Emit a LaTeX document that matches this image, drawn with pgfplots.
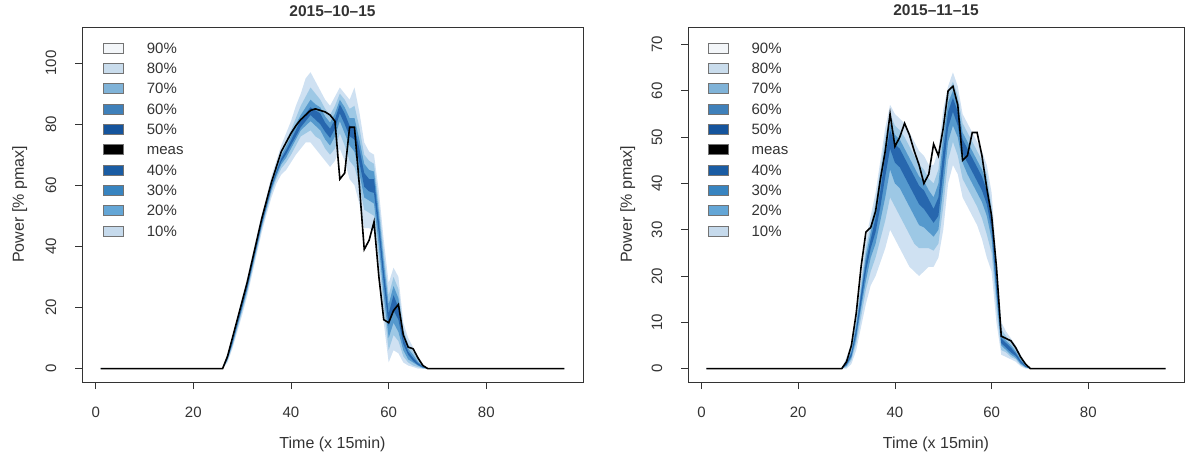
\documentclass[border=0pt]{standalone}
\usepackage{fontspec}
\setmainfont{Liberation Sans}
\usepackage{pgfplots}
\pgfplotsset{compat=1.18}
\usepackage{pgfplotstable}
\usepgfplotslibrary{fillbetween}

\definecolor{bA}{HTML}{CFE1F2}
\definecolor{bB}{HTML}{9DC8E5}
\definecolor{bC}{HTML}{5599CD}
\definecolor{bD}{HTML}{2767AE}
\definecolor{l90}{HTML}{F3F6F9}
\definecolor{l80}{HTML}{C9DCEC}
\definecolor{l70}{HTML}{80B3D8}
\definecolor{l60}{HTML}{3F80BA}
\definecolor{l50}{HTML}{15549C}
\definecolor{l40}{HTML}{1A5CA3}
\definecolor{l30}{HTML}{3884C0}
\definecolor{l20}{HTML}{64A6D6}
\definecolor{l10}{HTML}{C6DAEC}
\definecolor{txt}{HTML}{333333}

\pgfplotstableread{
t m q10 q20 q30 q40 q60 q70 q80 q90
1 0 0 0 0 0 0 0 0 0
26 0 0 0 0 0 0 0 0 0
27 4 2 2.5 3 3.3 3.7 4 4.5 5
28 10 6.5 7.2 7.8 8.3 8.7 9.2 9.8 10.5
29 16 12 13 13.7 14.3 14.8 15.3 16 17
30 22 17.5 18.7 19.5 20.2 20.8 21.5 22.3 23.5
31 28 23.5 24.7 25.5 26.2 26.8 27.5 28.3 29.5
32 35 30.5 31.7 32.5 33.2 33.8 34.5 35.3 36.5
33 42 37.5 38.7 39.5 40.2 40.8 41.5 42.3 43.5
34 49 44.5 45.7 46.5 47.2 47.8 48.5 49.3 50.5
35 55 50.5 51.7 52.5 53.2 53.8 54.5 55.3 56.5
36 61 56 57.5 58.5 59.2 59.8 60.5 61.5 63
37 66 60.5 62 63 63.7 64.5 65.3 66.5 68
38 71 63.5 65.5 66.8 67.7 68.7 69.7 71 73
39 74 65 67.5 69 70.2 71.5 72.8 74.5 77
40 77 67.5 70 72 73.2 74.7 76 78 81
41 79.5 70 73 75 76 78 80 82 86
42 81.5 72 76 78 79 81.5 83 86 90
43 83 74 77 79.5 81 83.5 85.5 89 95
44 84.5 74 78 81 83 85.5 88 92 97
45 85 72 76 79.5 81.5 84.5 86.5 90 94
46 84.5 70 75 78 80 83.5 85.5 88 91
47 84 68 72 75 77.5 80.5 82.5 85 88
48 83 66 70 73 75.5 78.5 80.5 83 86
49 81 68 72 76 78.5 81.5 83.5 86 89
50 62 72 77 81 83.5 86.5 88 90 92
51 64 68 73 77 80 83.5 85.5 88 90
52 79 62 68 73 76 79.5 82 85 88
53 79 60 66 71 75 79 82 86 92
54 60 54 60 64 67.5 72 75 79 84
55 39 46 52 56 59.5 64 67 70 74
56 42 46 51 55 58 62 65 68 71
57 48 45 50 54 57.5 62 64.5 67 70
58 30 30 36 40 44 48 51 54 58
59 16 15 20 24 28 32 35 38 42
60 15 2 6 10 14 18 21 24 28
61 19 6 11 15 19 24 27 30 33
62 21 5 9 12 16 20 23 26 30
63 11 2 4 6 8 10 11.5 13 15
64 7 1 2 3 4.5 5.5 6.5 8 10
65 6.5 0.5 1 2 2.5 3.5 4.5 5.5 7
66 3.5 0 0.5 1 1.2 1.8 2.2 3 4
67 1 0 0 0.2 0.4 0.6 0.8 1 1.5
68 0 0 0 0 0 0 0 0 0
96 0 0 0 0 0 0 0 0 0
}\tL

\pgfplotstableread{
t m q10 q20 q30 q40 q60 q70 q80 q90
1 0 0 0 0 0 0 0 0 0
29 0 0 0 0 0 0 0 0 0
30 1.5 0 0.3 0.6 0.8 1.2 1.5 2 2.5
31 5 1 1.8 2.3 2.7 3.3 3.8 4.5 5.5
32 12 4 5.5 6.5 7.5 8.5 9.5 10.5 12
33 22 9 11 13 14 16 17 18.5 20
34 29.5 14 17 19 21 23 24.5 26 28
35 30.5 18 21 24 26 28 29.5 31 33
36 34 20 24 27 29.5 32.5 34 36 38
37 41 23 28 32 35 38.5 40.5 43 45
38 47 26 32 37 41.5 46 48 50 52
39 55 30 37 43 47.5 51.5 53 55 57
40 48 28 35 40 44.5 48.5 50.5 52.5 55
41 50 26 33 39 43.5 47.5 49.5 51.5 54
42 53 24 31 37 41.5 45.5 47.5 50 53
43 50.5 22 29 35 39.5 43.5 45.5 48 51
44 47 21 27 33 37.5 41.5 43.5 46 49
45 44 20 26 31 35.5 39.5 41.5 44 47
46 40 21 26 30.5 34.5 38.5 40.5 43 46
47 42 22 26 29.5 33 36.5 38.5 41 44
48 48.5 22 25.5 28.5 31.5 34.5 37 40 44
49 46 24 27 30 33 37 40 43 47
50 52 30 35 39 42.5 47 50 53 56
51 60 40 45 49 52 55.5 57.5 59.5 61
52 61 44 49 52.5 55.5 58.5 60 62 64
53 57 42 46 50 52.5 55.5 57 59 61
54 45 37 41 44.5 46.5 49.5 51 53 55
55 46 35 39 42 44.5 47.5 49 51 53
56 51 33 37 40 42.5 45.5 47 49 51
57 51 31 35 38 40.5 43.5 45 47 49
58 46 28 32.5 36 38.5 41.5 43 45 47
59 39 24 29 33 35.5 38.5 40 42 44
60 33 21 25 28 30 32 33.5 35 38
61 22 10 13 15.5 17 19 20.5 22 24
62 7 3 4 5 5.5 6.5 7.5 8.5 10
63 6.5 2.5 3.5 4 4.5 5.5 6 7 8
64 6 2 2.5 3 3.5 4.5 5 5.5 6.5
65 4.5 1.5 2 2.3 2.7 3.3 3.7 4.2 5
66 2.5 0.5 0.8 1 1.3 1.7 2 2.4 3
67 1 0 0.2 0.3 0.4 0.6 0.7 0.9 1.2
68 0 0 0 0 0 0 0 0 0
96 0 0 0 0 0 0 0 0 0
}\tR

\newcommand{\legendimages}{%
\addlegendimage{fill=l90}\addlegendentry{90\%}
\addlegendimage{fill=l80}\addlegendentry{80\%}
\addlegendimage{fill=l70}\addlegendentry{70\%}
\addlegendimage{fill=l60}\addlegendentry{60\%}
\addlegendimage{fill=l50}\addlegendentry{50\%}
\addlegendimage{fill=black}\addlegendentry{meas}
\addlegendimage{fill=l40}\addlegendentry{40\%}
\addlegendimage{fill=l30}\addlegendentry{30\%}
\addlegendimage{fill=l20}\addlegendentry{20\%}
\addlegendimage{fill=l10}\addlegendentry{10\%}
}

\pgfplotsset{
  rstyle/.style={
    scale only axis, height=355pt,
    xmin=-2.8, xmax=99.8,
    xtick={0,20,40,60,80},
    tick align=outside, xtick pos=left, ytick pos=left,
    major tick length=7pt,
    every tick/.style={txt, line width=0.8pt},
    axis line style={txt, line width=0.9pt},
    /pgf/number format/assume math mode=true,
    ticklabel style={font=\fontsize{15}{18}\selectfont, text=txt},
    xticklabel style={anchor=base, yshift=-28pt},
    yticklabel style={anchor=base, xshift=-19pt, rotate=90},
    title style={font=\bfseries\fontsize{15.5}{18}\selectfont, text=txt, at={(0.5,1)}, anchor=base, yshift=5pt},
    xlabel={Time (x 15min)},
    ylabel={Power [\% pmax]},
    label style={font=\fontsize{16}{19}\selectfont, text=txt},
    xlabel style={at={(0.5,0)}, anchor=base, yshift=-66pt},
    legend cell align=left,
    legend image code/.code={\draw[##1, draw=black!55, line width=0.6pt] (0pt,-5pt) rectangle (20pt,5pt);},
    legend style={draw=none, fill=none, anchor=north west, inner sep=0pt,
      font=\fontsize{15}{18}\selectfont, text=txt, row sep=9.7pt, column sep=23pt,
      nodes={inner sep=0pt, text height=10.5pt, text depth=0pt}},
  }
}

\begin{document}
\begin{tikzpicture}

\begin{axis}[rstyle, at={(82pt,-382pt)}, anchor=south west, width=501pt,
  ymin=-4.4, ymax=111.8, ytick={0,20,40,60,80,100},
  title={2015--10--15},
  ylabel style={at={(-0.116,0.5)}, anchor=base},
  legend style={at={(axis description cs:0.042,0.956)}}]
\legendimages
\addplot[draw=none, name path=a10, forget plot] table[x=t,y=q10]{\tL};
\addplot[draw=none, name path=a20, forget plot] table[x=t,y=q20]{\tL};
\addplot[draw=none, name path=a30, forget plot] table[x=t,y=q30]{\tL};
\addplot[draw=none, name path=a40, forget plot] table[x=t,y=q40]{\tL};
\addplot[draw=none, name path=a60, forget plot] table[x=t,y=q60]{\tL};
\addplot[draw=none, name path=a70, forget plot] table[x=t,y=q70]{\tL};
\addplot[draw=none, name path=a80, forget plot] table[x=t,y=q80]{\tL};
\addplot[draw=none, name path=a90, forget plot] table[x=t,y=q90]{\tL};
\addplot[fill=bA, forget plot] fill between[of=a10 and a90];
\addplot[fill=bB, forget plot] fill between[of=a20 and a80];
\addplot[fill=bC, forget plot] fill between[of=a30 and a70];
\addplot[fill=bD, forget plot] fill between[of=a40 and a60];
\addplot[black, line width=1.6pt, forget plot] table[x=t,y=m]{\tL};
\end{axis}

\begin{axis}[rstyle, at={(688pt,-382pt)}, anchor=south west, width=496pt,
  ymin=-2.9, ymax=73.8, ytick={0,10,20,30,40,50,60,70},
  title={2015--11--15},
  ylabel style={at={(-0.113,0.5)}, anchor=base},
  legend style={at={(axis description cs:0.040,0.956)}}]
\legendimages
\addplot[draw=none, name path=b10, forget plot] table[x=t,y=q10]{\tR};
\addplot[draw=none, name path=b20, forget plot] table[x=t,y=q20]{\tR};
\addplot[draw=none, name path=b30, forget plot] table[x=t,y=q30]{\tR};
\addplot[draw=none, name path=b40, forget plot] table[x=t,y=q40]{\tR};
\addplot[draw=none, name path=b60, forget plot] table[x=t,y=q60]{\tR};
\addplot[draw=none, name path=b70, forget plot] table[x=t,y=q70]{\tR};
\addplot[draw=none, name path=b80, forget plot] table[x=t,y=q80]{\tR};
\addplot[draw=none, name path=b90, forget plot] table[x=t,y=q90]{\tR};
\addplot[fill=bA, forget plot] fill between[of=b10 and b90];
\addplot[fill=bB, forget plot] fill between[of=b20 and b80];
\addplot[fill=bC, forget plot] fill between[of=b30 and b70];
\addplot[fill=bD, forget plot] fill between[of=b40 and b60];
\addplot[black, line width=1.6pt, forget plot] table[x=t,y=m]{\tR};
\end{axis}
\path (0pt,0pt) rectangle (1185pt,-458pt);
\end{tikzpicture}
\end{document}
